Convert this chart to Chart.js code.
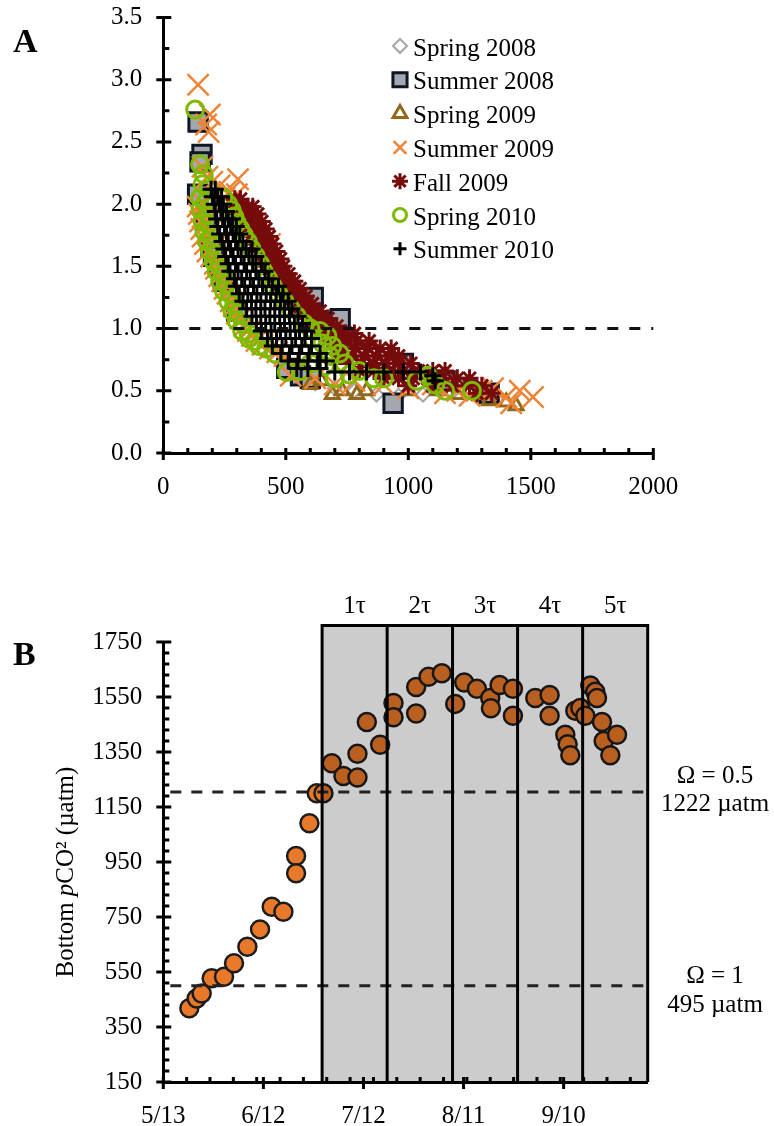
<!DOCTYPE html>
<html>
<head>
<meta charset="utf-8">
<script src="https://cdn.jsdelivr.net/npm/chart.js@4.4.0/dist/chart.umd.min.js"></script>
<style>
  body { margin: 0; background: #fff; }
  #wrapA { position: absolute; left: 0; top: 0; width: 774px; height: 520px; }
  #wrapB { position: absolute; left: 0; top: 560px; width: 774px; height: 566px; }
</style>
</head>
<body>
<div id="wrapA"><canvas id="chartA"></canvas></div>
<div id="wrapB"><canvas id="chartB"></canvas></div>
<script>
// ---- Panel A: saturation state vs bottom pCO2, one list of [pCO2, omega] per season ----
const seasonNames = ["Spring 2008", "Summer 2008", "Spring 2009", "Summer 2009", "Fall 2009", "Spring 2010", "Summer 2010"];

const spring2008 = [[480,0.72],[545,0.62],[620,0.56],[700,0.52],[780,0.5],[870,0.47],[960,0.46],[1060,0.47],[1180,0.49],[1300,0.45]];
const summer2008 = [[142,2.66],[158,2.4],[150,2.34],[140,2.08],[175,1.9],[195,1.66],[205,1.58],[225,1.5],[245,1.38],[300,1.14],[504,0.68],[612,1.25],[700,1.05],[722,1.08],[980,0.72],[938,0.4],[560,0.62],[600,0.6],[1150,0.58],[1330,0.48]];
const spring2009 = [[600,0.55],[645,0.58],[690,0.47],[730,0.5],[790,0.47],[830,0.5],[1000,0.5],[1120,0.5],[1200,0.47],[1280,0.47],[1330,0.42],[1400,0.41],[1440,0.38]];
const summer2009 = [[142,2.96],[190,2.72],[175,2.64],[185,2.58],[160,2.3],[180,2.22],[200,2.18],[230,2.15],[305,2.2],[300,2.08],[250,2.05],[270,2.1],[140,1.98],[165,2.0],[145,1.92],[150,1.86],[172,1.88],[155,1.8],[160,1.74],[182,1.76],[170,1.68],[180,1.62],[195,1.58],[210,1.52],[215,1.48],[228,1.42],[240,1.38],[250,1.32],[262,1.28],[275,1.22],[288,1.18],[300,1.12],[315,1.08],[330,1.02],[345,0.98],[362,0.94],[380,0.9],[405,0.87],[435,0.84],[465,0.81],[495,0.78],[435,1.68],[250,1.9],[230,1.7],[520,0.62],[620,0.6],[700,0.55],[780,0.58],[900,0.55],[1000,0.52],[1100,0.55],[1150,0.48],[1200,0.5],[1250,0.46],[1300,0.5],[1346,0.52],[1400,0.45],[1455,0.5],[1509,0.45],[1420,0.4]];
const fall2009 = [[292,2.04],[315,2.04],[292,1.98],[318,1.98],[345,1.98],[365,1.98],[305,1.92],[330,1.92],[358,1.92],[385,1.92],[322,1.86],[348,1.86],[375,1.86],[402,1.86],[340,1.8],[365,1.8],[392,1.8],[418,1.8],[355,1.74],[380,1.74],[408,1.74],[432,1.74],[370,1.68],[396,1.68],[422,1.68],[446,1.68],[390,1.62],[415,1.62],[440,1.62],[462,1.62],[405,1.56],[430,1.56],[455,1.56],[478,1.56],[420,1.5],[445,1.5],[470,1.5],[490,1.5],[440,1.44],[465,1.44],[490,1.44],[512,1.44],[458,1.38],[485,1.38],[510,1.38],[535,1.38],[478,1.32],[505,1.32],[530,1.32],[558,1.32],[500,1.26],[528,1.26],[555,1.26],[582,1.26],[525,1.2],[552,1.2],[580,1.2],[608,1.2],[552,1.14],[580,1.14],[610,1.14],[640,1.14],[580,1.08],[610,1.08],[642,1.08],[672,1.08],[610,1.02],[642,1.02],[675,1.02],[708,1.02],[640,0.96],[675,0.96],[710,0.96],[745,0.96],[780,0.96],[670,0.9],[705,0.9],[745,0.9],[790,0.9],[840,0.9],[700,0.84],[740,0.84],[785,0.84],[835,0.84],[885,0.84],[930,0.84],[720,0.78],[770,0.78],[820,0.78],[870,0.78],[920,0.78],[960,0.78],[760,0.72],[810,0.72],[860,0.72],[910,0.72],[960,0.72],[1010,0.72],[800,0.66],[860,0.66],[920,0.66],[980,0.66],[1040,0.66],[1100,0.66],[1150,0.66],[900,0.6],[960,0.6],[1020,0.6],[1080,0.6],[1140,0.6],[1200,0.6],[1250,0.6],[1000,0.54],[1100,0.54],[1180,0.54],[1250,0.54],[1300,0.54],[1280,0.48],[1340,0.48]];
const spring2010 = [[130,2.76],[150,2.32],[165,2.24],[160,2.16],[185,2.12],[150,2.05],[175,2.02],[152,1.96],[180,1.92],[160,1.86],[188,1.84],[168,1.78],[195,1.76],[178,1.7],[205,1.68],[190,1.62],[215,1.6],[205,1.54],[230,1.52],[218,1.46],[245,1.44],[232,1.38],[258,1.36],[248,1.3],[272,1.28],[265,1.22],[290,1.2],[282,1.14],[305,1.12],[300,1.06],[325,1.04],[322,0.98],[348,0.96],[350,0.92],[375,0.9],[390,0.86],[420,0.84],[455,0.8],[245,2.05],[265,2.0],[280,1.95],[290,1.9],[300,1.85],[315,1.8],[330,1.75],[345,1.7],[360,1.64],[378,1.58],[395,1.52],[410,1.46],[428,1.4],[448,1.34],[470,1.28],[495,1.22],[520,1.16],[545,1.1],[575,1.04],[600,1.0],[640,0.98],[670,0.94],[610,0.92],[650,0.88],[690,0.86],[630,0.8],[680,0.78],[720,0.8],[600,0.72],[660,0.7],[740,0.72],[504,0.65],[560,0.66],[700,0.6],[760,0.63],[800,0.66],[860,0.6],[900,0.6],[1035,0.58],[1080,0.62],[1110,0.55],[1150,0.5],[1260,0.5]];
const summer2010 = [[195,2.12],[212,2.12],[200,2.06],[222,2.06],[238,2.06],[208,2.0],[228,2.0],[245,2.0],[212,1.94],[235,1.94],[258,1.94],[218,1.88],[242,1.88],[265,1.88],[282,1.88],[222,1.82],[250,1.82],[275,1.82],[298,1.82],[230,1.76],[258,1.76],[285,1.76],[312,1.76],[240,1.7],[265,1.7],[295,1.7],[325,1.7],[248,1.64],[275,1.64],[305,1.64],[338,1.64],[362,1.64],[255,1.58],[285,1.58],[318,1.58],[350,1.58],[378,1.58],[265,1.52],[295,1.52],[330,1.52],[365,1.52],[400,1.52],[272,1.46],[305,1.46],[340,1.46],[378,1.46],[415,1.46],[290,1.4],[320,1.4],[355,1.4],[390,1.4],[430,1.4],[298,1.34],[332,1.34],[368,1.34],[405,1.34],[445,1.34],[470,1.34],[310,1.28],[345,1.28],[382,1.28],[420,1.28],[460,1.28],[488,1.28],[325,1.22],[360,1.22],[398,1.22],[438,1.22],[478,1.22],[510,1.22],[340,1.16],[378,1.16],[415,1.16],[455,1.16],[495,1.16],[525,1.16],[362,1.1],[398,1.1],[435,1.1],[475,1.1],[515,1.1],[550,1.1],[380,1.04],[418,1.04],[455,1.04],[495,1.04],[535,1.04],[568,1.04],[400,0.98],[440,0.98],[478,0.98],[518,0.98],[556,0.98],[585,0.98],[425,0.92],[462,0.92],[500,0.92],[540,0.92],[578,0.92],[605,0.92],[445,0.86],[485,0.86],[525,0.86],[565,0.86],[605,0.86],[480,0.8],[515,0.8],[555,0.8],[595,0.8],[640,0.8],[510,0.74],[550,0.74],[590,0.74],[630,0.74],[665,0.74],[545,0.68],[590,0.68],[640,0.68],[700,0.65],[760,0.65],[830,0.65],[900,0.65],[980,0.65],[1050,0.65],[1100,0.62],[1110,0.58]];

const pco2Ticks = [0, 500, 1000, 1500, 2000];
const omegaTicks = [0, 0.5, 1, 1.5, 2, 2.5, 3, 3.5];
const omegaRef = 1.0;

// ---- Panel B: bottom pCO2 through 2010, x = day of year ----
const sampleDays = [140.8, 143, 144.5, 147.5, 151.2, 154.2, 158.2, 162, 165.5, 169, 172.8, 172.8, 176.8, 179, 181, 183.5, 187, 191.2, 191.2, 194, 198, 202, 202, 208.8, 208.8, 212.5, 216.5, 220.5, 223.2, 227, 231, 231.2, 233.8, 237.8, 237.8, 244.5, 248.8, 248.8, 253.5, 254.2, 255, 256.5, 258, 259.5, 261, 262.5, 263, 264.5, 265, 267, 269];
const bottomPco2 = [418, 454, 472, 527, 533, 582, 642, 705, 787, 769, 972, 909, 1091, 1200, 1200, 1309, 1263, 1257, 1344, 1459, 1376, 1528, 1476, 1586, 1490, 1624, 1636, 1525, 1603, 1580, 1546, 1509, 1594, 1580, 1482, 1546, 1557, 1482, 1413, 1378, 1338, 1500, 1510, 1482, 1592, 1569, 1546, 1459, 1390, 1338, 1413];

const dateTicks = [133, 163, 193, 223, 253];
const dateLabels = ["5/13", "6/12", "7/12", "8/11", "9/10"];
const pco2AxisTicks = [150, 350, 550, 750, 950, 1150, 1350, 1550, 1750];
const tauBounds = [180.6, 200.1, 219.7, 239.2, 258.7, 278.2];
const tauLabels = ["1τ", "2τ", "3τ", "4τ", "5τ"];
const tauTop = 1810;
const omegaLevels = [1205, 500];
const omegaNotes = [["Ω = 0.5", "1222 µatm"], ["Ω = 1", "495 µatm"]];

const serif = '"Liberation Serif", "Times New Roman", serif';
const fontPx = 25;

// ticks that cross the axis, minor ticks inside the plot
const axisMarks = {
  id: 'axisMarks',
  afterDraw(chart, args, o) {
    const ctx = chart.ctx, xs = chart.scales.x, ys = chart.scales.y, a = chart.chartArea;
    ctx.save();
    ctx.strokeStyle = '#000';
    ctx.lineWidth = 3;
    ctx.beginPath();
    xs.ticks.forEach(t => {
      const p = xs.getPixelForValue(t.value);
      ctx.moveTo(p, a.bottom - 5); ctx.lineTo(p, a.bottom + 7);
    });
    for (let v = o.xMinorStart; v <= xs.max + 1e-6; v += o.xMinorStep) {
      const p = xs.getPixelForValue(v);
      ctx.moveTo(p, a.bottom - 5); ctx.lineTo(p, a.bottom);
    }
    ys.ticks.forEach(t => {
      const p = ys.getPixelForValue(t.value);
      ctx.moveTo(a.left - 7, p); ctx.lineTo(a.left + 8, p);
    });
    for (let v = ys.min; v <= ys.max + 1e-6; v += o.yMinorStep) {
      const p = ys.getPixelForValue(v);
      ctx.moveTo(a.left, p); ctx.lineTo(a.left + 6, p);
    }
    ctx.stroke();
    ctx.restore();
  }
};

function noOverflow(s) {
  s.paddingTop = 0; s.paddingBottom = 0; s.paddingLeft = 0; s.paddingRight = 0;
}

function axisBase(min, max, ticks, fmt, pad) {
  return {
    type: 'linear', min, max,
    afterBuildTicks: s => { s.ticks = ticks.map(v => ({ value: v })); },
    ticks: { color: '#000', font: { family: serif, size: fontPx }, padding: pad, autoSkip: false, maxRotation: 0, callback: fmt },
    grid: { display: false, drawTicks: false },
    border: { display: true, color: '#000', width: 3 }
  };
}

// ---------- chart A ----------
const seasonData = [spring2008, summer2008, spring2009, summer2009, fall2009, spring2010, summer2010];
const seasonStyle = [
  { pointStyle: 'rectRot', radius: 7, bg: 'rgba(255,255,255,0)', border: '#a6a6a6', bw: 2, legendR: 7 },
  { pointStyle: 'rect', radius: 13, bg: '#a4a8ae', border: '#0e1726', bw: 3, legendR: 10 },
  { pointStyle: 'triangle', radius: 8, bg: 'rgba(255,255,255,0)', border: '#94681a', bw: 3, legendR: 8 },
  { pointStyle: 'crossRot', radius: 15, bg: '#ee8437', border: '#ee8437', bw: 2.5, legendR: 9 },
  { pointStyle: 'star', radius: 9, bg: '#760b0b', border: '#760b0b', bw: 3, legendR: 8 },
  { pointStyle: 'circle', radius: 8.5, bg: 'rgba(255,255,255,0)', border: '#7fba00', bw: 3, legendR: 6.5 },
  { pointStyle: 'cross', radius: 8.5, bg: '#000', border: '#000', bw: 3, legendR: 6.5 }
];

const legendA = {
  id: 'legendA',
  afterDraw(chart) {
    const ctx = chart.ctx;
    ctx.save();
    seasonNames.forEach((name, i) => {
      const st = seasonStyle[i];
      const y = 46 + i * 33.8;
      ctx.fillStyle = st.bg;
      ctx.strokeStyle = st.border;
      ctx.lineWidth = st.bw;
      Chart.helpers.drawPoint(ctx, { pointStyle: st.pointStyle, radius: st.legendR, rotation: 0, borderWidth: st.bw }, 400, y);
      ctx.fillStyle = '#000';
      ctx.font = fontPx + 'px ' + serif;
      ctx.textBaseline = 'alphabetic';
      ctx.textAlign = 'left';
      ctx.fillText(name, 413, y + 9.5);
    });
    ctx.font = 'bold 34px ' + serif;
    ctx.fillText('A', 13, 52);
    ctx.restore();
  }
};

const refLineA = {
  id: 'refLineA',
  afterDatasetsDraw(chart) {
    const ctx = chart.ctx, ys = chart.scales.y, a = chart.chartArea;
    const y = ys.getPixelForValue(omegaRef);
    ctx.save();
    ctx.strokeStyle = '#111';
    ctx.lineWidth = 3;
    ctx.setLineDash([11, 11]);
    ctx.beginPath();
    ctx.moveTo(a.left + 4, y); ctx.lineTo(a.right, y);
    ctx.stroke();
    ctx.restore();
  }
};

const xA = axisBase(0, 2000, pco2Ticks, v => v, 19);
xA.afterFit = s => { noOverflow(s); s.height = 60; };
const yA = axisBase(0, 3.5, omegaTicks, v => v.toFixed(1), 21);
yA.afterFit = s => { noOverflow(s); s.width = 163.3; };

new Chart(document.getElementById('chartA'), {
  type: 'scatter',
  data: {
    datasets: seasonNames.map((name, i) => ({
      label: name,
      data: seasonData[i].map(p => ({ x: p[0], y: p[1] })),
      pointStyle: seasonStyle[i].pointStyle,
      pointRadius: seasonStyle[i].radius,
      backgroundColor: seasonStyle[i].bg,
      borderColor: seasonStyle[i].border,
      borderWidth: seasonStyle[i].bw,
      order: seasonNames.length - i
    }))
  },
  options: {
    responsive: true, maintainAspectRatio: false, animation: false, devicePixelRatio: 1,
    layout: { padding: { left: 0, right: 120.7, top: 15, bottom: 7 } },
    plugins: { legend: { display: false }, tooltip: { enabled: false },
      axisMarks: { xMinorStart: 0, xMinorStep: 100, yMinorStep: 0.25 } },
    scales: { x: xA, y: yA }
  },
  plugins: [refLineA, axisMarks, legendA]
});

// ---------- chart B ----------
const tauBoxes = {
  id: 'tauBoxes',
  afterDatasetsDraw(chart) {
    const ctx = chart.ctx, xs = chart.scales.x, ys = chart.scales.y, a = chart.chartArea;
    const top = ys.getPixelForValue(tauTop);
    const bottom = a.bottom;
    const x0 = xs.getPixelForValue(tauBounds[0]);
    const x1 = xs.getPixelForValue(tauBounds[tauBounds.length - 1]);
    ctx.save();
    ctx.fillStyle = 'rgba(0,0,0,0.2)';
    ctx.fillRect(x0, top, x1 - x0, bottom - top);
    // dashed saturation levels
    ctx.strokeStyle = '#222';
    ctx.lineWidth = 3;
    ctx.setLineDash([11, 10]);
    omegaLevels.forEach((lv, i) => {
      const y = ys.getPixelForValue(lv);
      ctx.beginPath();
      ctx.moveTo(a.left + 7, y);
      ctx.lineTo(i === 0 ? a.right + 5 : a.right, y);
      ctx.stroke();
    });
    ctx.setLineDash([]);
    ctx.strokeStyle = '#000';
    ctx.lineWidth = 3;
    ctx.beginPath();
    ctx.moveTo(x0, bottom); ctx.lineTo(x0, top); ctx.lineTo(x1, top); ctx.lineTo(x1, bottom);
    tauBounds.slice(1, -1).forEach(d => {
      const p = xs.getPixelForValue(d);
      ctx.moveTo(p, top); ctx.lineTo(p, bottom);
    });
    ctx.stroke();
    ctx.fillStyle = '#000';
    ctx.font = fontPx + 'px ' + serif;
    ctx.textAlign = 'center';
    ctx.textBaseline = 'alphabetic';
    tauLabels.forEach((t, i) => {
      const c = (xs.getPixelForValue(tauBounds[i]) + xs.getPixelForValue(tauBounds[i + 1])) / 2;
      ctx.fillText(t, c, top - 13);
    });
    ctx.restore();
  }
};

const textB = {
  id: 'textB',
  afterDraw(chart) {
    const ctx = chart.ctx;
    ctx.save();
    ctx.fillStyle = '#000';
    ctx.font = 'bold 34px ' + serif;
    ctx.textAlign = 'left';
    ctx.fillText('B', 13, 105);
    ctx.font = fontPx + 'px ' + serif;
    ctx.textAlign = 'center';
    const notePos = [[223, 251], [423, 452]];
    omegaNotes.forEach((n, i) => {
      ctx.fillText(n[0], 715, notePos[i][0]);
      ctx.fillText(n[1], 715, notePos[i][1]);
    });
    // rotated axis title with italic p
    const parts = [['Bottom ', ''], ['p', 'italic '], ['CO² (µatm)', '']];
    let w = 0;
    parts.forEach(p => { ctx.font = p[1] + fontPx + 'px ' + serif; w += ctx.measureText(p[0]).width; });
    ctx.translate(66, 312);
    ctx.rotate(-Math.PI / 2);
    ctx.textAlign = 'left';
    ctx.textBaseline = 'middle';
    let x = -w / 2;
    parts.forEach(p => {
      ctx.font = p[1] + fontPx + 'px ' + serif;
      ctx.fillText(p[0], x, 0);
      x += ctx.measureText(p[0]).width;
    });
    ctx.restore();
  }
};

const xB = axisBase(133, 278.2, dateTicks, (v, i) => dateLabels[i], 19);
xB.afterFit = s => { noOverflow(s); s.height = 44; };
const yB = axisBase(150, 1750, pco2AxisTicks, v => v, 21);
yB.afterFit = s => { noOverflow(s); s.width = 163.3; };

new Chart(document.getElementById('chartB'), {
  type: 'scatter',
  data: {
    datasets: [{
      label: 'Bottom pCO2',
      data: sampleDays.map((d, i) => ({ x: d, y: bottomPco2[i] })),
      pointRadius: 9,
      backgroundColor: '#e8782a',
      borderColor: '#1c1c1c',
      borderWidth: 2.5
    }]
  },
  options: {
    responsive: true, maintainAspectRatio: false, animation: false, devicePixelRatio: 1,
    layout: { padding: { left: 0, right: 126.3, top: 82, bottom: 0 } },
    plugins: { legend: { display: false }, tooltip: { enabled: false },
      axisMarks: { xMinorStart: 140, xMinorStep: 7, yMinorStep: 40 } },
    scales: { x: xB, y: yB }
  },
  plugins: [tauBoxes, axisMarks, textB]
});
</script>
</body>
</html>
